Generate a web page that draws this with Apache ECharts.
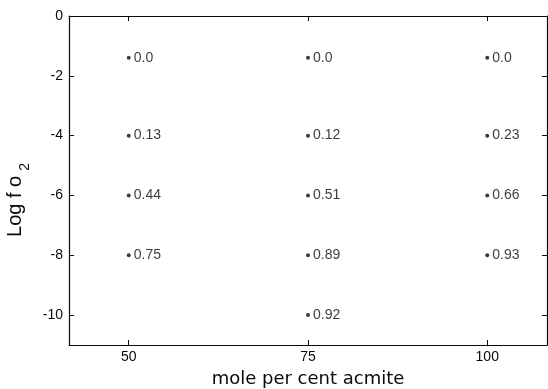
<!DOCTYPE html>
<html><head><meta charset="utf-8">
<script src="https://cdn.jsdelivr.net/npm/echarts@6/dist/echarts.min.js"></script>
<style>html,body{margin:0;padding:0;background:#fff}#c{width:548px;height:389px}</style>
</head><body><div id="c"></div>
<script>
const acmite = [50, 50, 50, 50, 75, 75, 75, 75, 75, 100, 100, 100, 100];
const logFO2 = [-1.4, -4, -6, -8, -1.4, -4, -6, -8, -10, -1.4, -4, -6, -8];
const pointLabels = ['0.0', '0.13', '0.44', '0.75', '0.0', '0.12', '0.51', '0.89', '0.92', '0.0', '0.23', '0.66', '0.93'];
const xTicks = [50, 75, 100];
const yTicks = [0, -2, -4, -6, -8, -10];

const ink = '#0a0a0a';
const font = 'Liberation Sans, Arial, Helvetica, sans-serif';
const wideFont = 'DejaVu Sans, Verdana, sans-serif';
const chart = echarts.init(document.getElementById('c'));
const baseX = {
  type: 'value', min: 41.67, max: 108.33,
  axisLine: {show: true, onZero: false, lineStyle: {color: ink, width: 1.2}},
  axisTick: {show: true, inside: true, length: 5, customValues: xTicks, lineStyle: {color: ink}},
  splitLine: {show: false}
};
const baseY = {
  type: 'value', min: -11, max: 0,
  axisLine: {show: true, onZero: false, lineStyle: {color: ink, width: 1.2}},
  axisTick: {show: true, inside: true, length: 5, customValues: yTicks, lineStyle: {color: ink}},
  splitLine: {show: false}
};
chart.setOption({
  animation: false,
  backgroundColor: '#fff',
  grid: {left: 69, right: 1, top: 16, bottom: 44, containLabel: false, outerBoundsMode: 'none'},
  xAxis: [
    Object.assign({}, baseX, {
      position: 'bottom',
      axisLabel: {customValues: xTicks, color: ink, fontSize: 14, fontFamily: font, margin: 5},
      name: 'mole per cent acmite', nameLocation: 'middle', nameGap: 25,
      nameTextStyle: {color: ink, fontSize: 18, fontFamily: wideFont}
    }),
    Object.assign({}, baseX, {position: 'top', axisLabel: {show: false}})
  ],
  yAxis: [
    Object.assign({}, baseY, {
      position: 'left',
      axisLabel: {customValues: yTicks, color: ink, fontSize: 14, fontFamily: font, margin: 6},
      name: '{a|Log f o}{b|2}', nameLocation: 'middle', nameRotate: 90, nameGap: 28,
      nameTextStyle: {
        padding: [0, 39, 0, 0],
        rich: {
          a: {color: ink, fontSize: 20, fontFamily: font, verticalAlign: 'top', lineHeight: 22},
          b: {color: ink, fontSize: 14, fontFamily: font, verticalAlign: 'top', lineHeight: 14, padding: [12, 0, 0, 5]}
        }
      }
    }),
    Object.assign({}, baseY, {position: 'right', axisLabel: {show: false}})
  ],
  series: [{
    type: 'scatter',
    symbol: 'circle', symbolSize: 4,
    itemStyle: {color: ink},
    data: acmite.map((x, i) => [x, logFO2[i], pointLabels[i]]),
    label: {
      show: true, position: 'right', distance: 3,
      formatter: p => p.data[2],
      color: ink, fontSize: 14, fontFamily: font
    }
  }]
});
</script></body></html>
